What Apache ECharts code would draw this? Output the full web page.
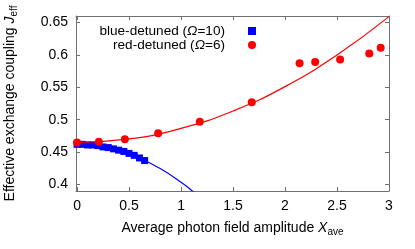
<!DOCTYPE html>
<html><head><meta charset="utf-8">
<script src="https://cdn.jsdelivr.net/npm/echarts@6/dist/echarts.min.js"></script>
<style>html,body{margin:0;padding:0;background:#fff}#c{width:415px;height:249px}</style>
</head><body><div id="c"></div>
<script>
// Data
const blueX = [0, 0.05, 0.1, 0.15, 0.2, 0.25, 0.3, 0.35, 0.4, 0.45, 0.5, 0.55, 0.6, 0.65];
const blueY = [0.462, 0.462, 0.461, 0.461, 0.460, 0.458, 0.457, 0.455, 0.453, 0.451, 0.448, 0.445, 0.441, 0.437];
const redX = [0, 0.21, 0.46, 0.78, 1.18, 1.68, 2.14, 2.29, 2.53, 2.81, 2.92];
const redY = [0.465, 0.466, 0.470, 0.479, 0.497, 0.527, 0.587, 0.589, 0.593, 0.602, 0.611];
const blueFitX = [0, 0.2, 0.4, 0.6, 0.8, 1.0, 1.1, 1.2];
const blueFitY = [0.462, 0.4597, 0.4527, 0.441, 0.4246, 0.4036, 0.3913, 0.378];
const redFitX = [0, 0.5, 1.0, 1.5, 2.0, 2.5, 3.0];
const redFitY = [0.465, 0.4703, 0.4866, 0.5135, 0.551, 0.600, 0.659];
const xTicks = [0, 0.5, 1, 1.5, 2, 2.5, 3];
const yTicks = [0.4, 0.45, 0.5, 0.55, 0.6, 0.65];
const blueName = 'blue-detuned (Ω=10)';
const redName = 'red-detuned (Ω=6)';

const zip = (a, b) => a.map((v, i) => [v, b[i]]);
const FONT = 'Liberation Sans';
const axisCol = '#707070';
const chart = echarts.init(document.getElementById('c'), null, {renderer: 'canvas'});
const baseX = {
  type: 'value', min: -0.01, max: 3,
  axisLine: {show: true, onZero: false, lineStyle: {color: axisCol, width: 1}},
  splitLine: {show: false},
  axisTick: {show: true, inside: true, length: 4, lineStyle: {color: axisCol}, customValues: xTicks}
};
const baseY = {
  type: 'value', min: 0.39, max: 0.66,
  axisLine: {show: true, onZero: false, lineStyle: {color: axisCol, width: 1}},
  splitLine: {show: false},
  axisTick: {show: true, inside: true, length: 4, lineStyle: {color: axisCol}, customValues: yTicks}
};
const nameRich = {
  n: {fontSize: 14, color: '#000', fontFamily: FONT},
  i: {fontSize: 14, color: '#000', fontStyle: 'italic', fontFamily: FONT},
  s: {fontSize: 10, color: '#000', fontFamily: FONT, verticalAlign: 'bottom', padding: [7, 0, 0, 0]}
};
chart.setOption({
  animation: false,
  textStyle: {fontFamily: FONT},
  grid: {left: 76, right: 26, top: 16, bottom: 58, containLabel: false, outerBoundsMode: 'none'},
  xAxis: [
    Object.assign({}, baseX, {
      position: 'bottom',
      axisLabel: {show: true, customValues: xTicks, color: '#000', fontSize: 14, margin: 8, fontFamily: FONT,
        formatter: v => String(v)},
      name: '{n|Average photon field amplitude }{i|X}{s|ave}',
      nameLocation: 'middle', nameGap: 29,
      nameTextStyle: {rich: nameRich}
    }),
    Object.assign({}, baseX, {position: 'top', axisLabel: {show: false}})
  ],
  yAxis: [
    Object.assign({}, baseY, {
      position: 'left',
      axisLabel: {show: true, customValues: yTicks, color: '#000', fontSize: 14, margin: 8, fontFamily: FONT,
        formatter: v => String(v)},
      name: '{n|Effective exchange coupling }{i|J}{s|eff}',
      nameLocation: 'middle', nameGap: 57, nameRotate: 90,
      nameTextStyle: {rich: nameRich}
    }),
    Object.assign({}, baseY, {position: 'right', axisLabel: {show: false}})
  ],
  legend: {
    data: [blueName, redName],
    orient: 'vertical', align: 'right',
    right: 159, top: 24, itemGap: 0, padding: 0,
    itemWidth: 8, itemHeight: 8,
    selectedMode: false,
    formatter: function (name) {
      if (name === blueName) return '{n|blue-detuned (}{i|Ω}{n|=10)}{g|}';
      return '{n|red-detuned (}{i|Ω}{n|=6)}{g|}';
    },
    textStyle: {fontSize: 13.6, color: '#000', fontFamily: FONT, padding: 0, rich: {
      n: {fontSize: 13.6, color: '#000', fontFamily: FONT, height: 13},
      i: {fontSize: 13.6, color: '#000', fontStyle: 'italic', fontFamily: FONT, height: 13},
      g: {width: 18, height: 13}
    }}
  },
  series: [
    {name: 'bluefit', type: 'line', data: zip(blueFitX, blueFitY), smooth: true, showSymbol: false, symbol: 'none',
      lineStyle: {color: '#0000ff', width: 1.2}, clip: true, z: 3},
    {name: 'redfit', type: 'line', data: zip(redFitX, redFitY), smooth: true, showSymbol: false, symbol: 'none',
      lineStyle: {color: '#ff0000', width: 1.2}, clip: true, z: 3},
    {name: blueName, type: 'scatter', data: zip(blueX, blueY), symbol: 'rect', symbolSize: 7,
      itemStyle: {color: '#0000ff', opacity: 1}, z: 2},
    {name: redName, type: 'scatter', data: zip(redX, redY), symbol: 'circle', symbolSize: 8,
      itemStyle: {color: '#ff0000', opacity: 1}, z: 4}
  ]
});
</script></body></html>
